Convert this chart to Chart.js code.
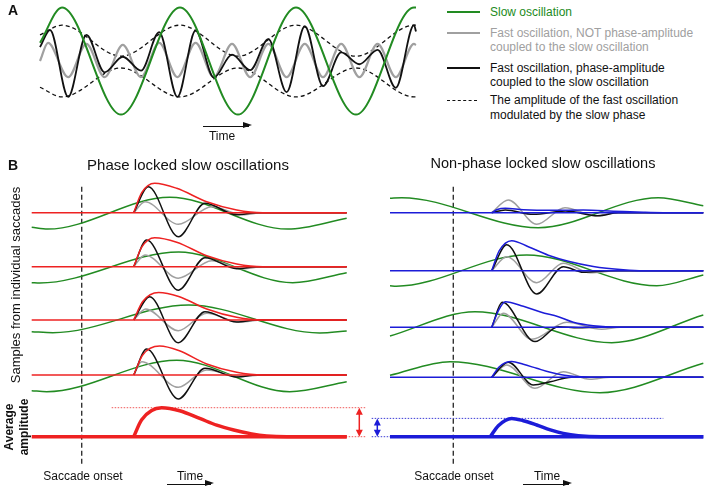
<!DOCTYPE html>
<html>
<head>
<meta charset="utf-8">
<script src="https://cdn.jsdelivr.net/npm/chart.js@4.4.0/dist/chart.umd.min.js"></script>
<style>
  body { margin: 0; background: #fff; }
  #page { position: relative; width: 708px; height: 490px; overflow: hidden;
          font-family: "Liberation Sans", Arial, Helvetica, sans-serif; color: #111; }
  canvas { position: absolute; }
  .lbl { position: absolute; white-space: nowrap; font-size: 12px; line-height: 14.5px; }
  .c { transform: translate(-50%, -50%); text-align: center; }
  .rot { transform: translate(-50%, -50%) rotate(-90deg); text-align: center; }
  .b { font-weight: bold; }
  .sw { position: absolute; height: 0; width: 33px; left: 447px; }
  .arrow { position: absolute; height: 0; border-top: 1.4px solid #111; }
  .arrow::after { content: ''; position: absolute; right: -3px; top: -4.7px;
                  border-left: 9px solid #111; border-top: 3.5px solid transparent;
                  border-bottom: 3.5px solid transparent; }
</style>
</head>
<body>
<div id="page">
  <canvas id="chartA" width="425" height="128" style="left:0;top:0"></canvas>
  <canvas id="chartLeft" width="372" height="320" style="left:0;top:170px"></canvas>
  <canvas id="chartRight" width="348" height="320" style="left:360px;top:170px"></canvas>

  <div class="lbl c b" style="left:13px;top:10px;font-size:14px">A</div>
  <div class="lbl c b" style="left:13px;top:165px;font-size:14px">B</div>

  <div class="sw" style="top:11px;border-top:2px solid #228b22"></div>
  <div class="lbl" style="left:490px;top:4.5px;color:#228b22">Slow oscillation</div>
  <div class="sw" style="top:32px;border-top:2px solid #a0a0a0"></div>
  <div class="lbl" style="left:490px;top:25.5px;color:#a0a0a0">Fast oscillation, NOT phase-amplitude<br>coupled to the slow oscillation</div>
  <div class="sw" style="top:67px;border-top:2px solid #111"></div>
  <div class="lbl" style="left:490px;top:60.5px">Fast oscillation, phase-amplitude<br>coupled to the slow oscillation</div>
  <div class="sw" style="top:99.5px;width:30px;border-top:1.5px dashed #111"></div>
  <div class="lbl" style="left:490px;top:93px">The amplitude of the fast oscillation<br>modulated by the slow phase</div>

  <div class="arrow" style="left:203px;top:125.5px;width:46px"></div>
  <div class="lbl c" style="left:222px;top:136px">Time</div>

  <div class="lbl c" style="left:188px;top:165px;font-size:15px">Phase locked slow oscillations</div>
  <div class="lbl c" style="left:543px;top:163px;font-size:14.5px">Non-phase locked slow oscillations</div>

  <div class="lbl rot" style="left:16px;top:285px;font-size:13px">Samples from individual saccades</div>
  <div class="lbl rot b" style="left:16px;top:427px">Average<br>amplitude</div>

  <div class="lbl c" style="left:83px;top:476px">Saccade onset</div>
  <div class="lbl c" style="left:190px;top:476px">Time</div>
  <div class="arrow" style="left:167px;top:484px;width:44px"></div>
  <div class="lbl c" style="left:454px;top:476px">Saccade onset</div>
  <div class="lbl c" style="left:547px;top:476px">Time</div>
  <div class="arrow" style="left:523px;top:484px;width:46px"></div>
</div>
<script>
// ---------- Panel A: [time, amplitude] read at extrema ----------
const slowWave = [[0, 0.34], [22, 1.0], [81, -1.0], [140, 1.0], [198, -1.0], [256, 1.0], [316, -1.0], [374, 1.0], [376, 1.0]];
const upperEnvelope = [[0, 0.49], [22, 0.67], [81, 0.09], [140, 0.67], [198, 0.09], [256, 0.67], [316, 0.09], [374, 0.67], [376, 0.67]];
const lowerEnvelope = [[0, -0.49], [22, -0.67], [81, -0.13], [140, -0.67], [198, -0.13], [256, -0.67], [316, -0.13], [374, -0.67], [376, -0.67]];
const coupledFast = [[0, 0.26], [10, 0.58], [28.2, -0.67], [46.4, 0.49], [64.6, -0.21], [82.8, 0.08], [101, -0.18],
  [119.2, 0.54], [137.4, -0.67], [155.6, 0.57], [173.8, -0.31], [192, 0.12], [210.2, -0.17], [228.4, 0.41],
  [246.6, -0.58], [264.8, 0.65], [283, -0.47], [301.2, 0.16], [319.4, -0.06], [337.6, 0.21], [355.8, -0.5], [374, 0.67], [376, 0.55]];
const uncoupledFast = [[0, 0.0], [8, 0.34], [28.2, -0.3], [46.4, 0.32], [64.6, -0.3], [82.8, 0.3], [101, -0.3],
  [119.2, 0.34], [137.4, -0.3], [155.6, 0.34], [173.8, -0.3], [192, 0.32], [210.2, -0.3], [228.4, 0.32],
  [246.6, -0.3], [264.8, 0.32], [283, -0.3], [301.2, 0.32], [319.4, -0.3], [337.6, 0.32], [355.8, -0.3], [374, 0.32], [376, 0.3]];

// ---------- Panel B left: phase locked (time rel. to saccade onset, burst part) ----------
const leftEnvelope = [
  [[52, 0], [60, 20], [73, 29.4], [95, 24.4], [125, 11], [155, 2.7], [181, 0], [265, 0]],
  [[52, 0], [60, 19.5], [73, 29], [95, 24.5], [125, 11], [155, 2.7], [181, 0], [265, 0]],
  [[52, 0], [61, 18.5], [77, 27.5], [97, 23.5], [125, 11], [155, 2.7], [181, 0], [265, 0]],
  [[52, 0], [61, 20], [78, 29], [97, 24.5], [125, 11], [155, 2.7], [181, 0], [265, 0]]
];
const leftCoupled = [
  [[52, 0], [66.6, 26], [96.6, -24], [123.3, 9.4], [155, -2], [175, 0], [265, 0]],
  [[52, 0], [65, 26.7], [96.6, -23.5], [123.3, 9], [155, -2], [175, 0], [265, 0]],
  [[52, 0], [68, 23.3], [96.6, -22.7], [123.3, 8.3], [155, -2], [175, 0], [265, 0]],
  [[52, 0], [65, 26], [96.6, -24], [123.3, 6.7], [155, -2], [175, 0], [265, 0]]
];
const leftUncoupled = [
  [[52, 0], [63.3, 11], [96.6, -11.6], [130, 6], [161, -2], [181, 0], [265, 0]],
  [[52, 0], [63.3, 11.7], [96.6, -11.5], [130, 6], [161, -2], [181, 0], [265, 0]],
  [[52, 0], [64, 11], [96.6, -10.7], [125, 6.7], [158, -2], [181, 0], [265, 0]],
  [[52, 0], [60, 13.3], [96.6, -12.3], [125, 5], [158, -1.5], [181, 0], [265, 0]]
];
const leftSlow = [
  [[-50, -14.6], [-34, -16.4], [88, 15.4], [206, -16.4], [265, -5.6]],
  [[-50, -16], [-42, -16.3], [97, 14.8], [211, -16], [265, -6]],
  [[-50, -11.7], [-29, -12.7], [107, 15], [238, -13], [265, -11]],
  [[-50, -15.7], [-35, -16.7], [95, 14.8], [208, -16.7], [265, -6.7]]
];
const leftAverage = [[52, 0], [60, 17], [80, 29], [98, 26], [118, 18.3], [135, 11.5], [152, 6.7],
  [170, 2.8], [185, 0.8], [205, 0], [265, 0]];

// ---------- Panel B right: non-phase locked ----------
const rightEnvelope = [
  [[38.4, 0], [44, 3.2], [52, 4.4], [70, 3], [100, 2.4], [130, 2.6], [160, 1.5], [190, 0.4], [210, 0], [250, 0]],
  [[38.4, 0], [46, 20], [58.4, 30], [75, 24], [95, 15.5], [115, 9.5], [140, 4.3], [170, 1], [190, 0], [250, 0]],
  [[38.4, 0], [45, 16.5], [52, 25.6], [70, 21], [88, 15], [105, 10.6], [120, 5], [140, 1.5], [165, 0], [250, 0]],
  [[38.4, 0], [46, 10.5], [58.4, 15.8], [70, 13], [83.4, 9], [97, 5], [115, 1.5], [145, 0], [250, 0]]
];
const rightCoupled = [
  [[38.4, 0], [52, 2.7], [80, -1.6], [112, 1.6], [145, -3], [165, 0], [250, 0]],
  [[38.4, 0], [53.4, 26], [83.4, -23.3], [110, 4], [130, -1.5], [157, 0], [250, 0]],
  [[38.4, 0], [49, 25], [81.7, -14.3], [105, 0.5], [125, -0.5], [145, 0], [250, 0]],
  [[38.4, 0], [55, 15], [80, -7.7], [97, -4.5], [118, 0], [250, 0]]
];
const rightUncoupled = [
  [[38.4, 0], [55, 12.7], [83.4, -11.6], [111.7, 5], [141.7, -3], [165, 0], [250, 0]],
  [[38.4, 0], [53.4, 14], [83.4, -12], [110, 7.4], [136.7, -2], [165, 0], [250, 0]],
  [[38.4, 0], [50, 14], [78.4, -12], [113.4, 5], [148.4, -2], [167, 0], [250, 0]],
  [[38.4, 0], [53.4, 12.3], [81.7, -11], [110, 5.6], [136.7, -2], [157, 0], [250, 0]]
];
const rightSlow = [
  [[-63.3, 14.4], [-51.6, 15], [85, -15], [205, 15], [250, 7]],
  [[-63.3, -15], [-57, -15.5], [73.4, 15.7], [203.4, -15], [250, -4.3]],
  [[-63.3, -8.7], [21.7, 15.6], [158.4, -15.4], [250, 12.3]],
  [[-63.3, 2], [-3.3, 15.6], [146.7, -15.4], [250, 14]]
];
const rightAverage = [[37, 0], [45, 11], [58.4, 18.3], [70, 16], [83.4, 11.7], [97, 6.8], [110, 3.3],
  [125, 1], [148, 0], [250, 0]];

// layout: vertical offset of each sample trace
const leftRows = [224, 170, 116.7, 61.7];
const rightRows = [224, 166, 109.4, 59.4];

const GREEN = '#228b22', RED = '#ee2222', BLUE = '#1c1cd8', GRAY = '#a0a0a0', BLACK = '#111111';

function curve(points, color, width, order, shift) {
  shift = shift || 0;
  return {
    data: points.map(p => ({ x: p[0], y: p[1] + shift })),
    borderColor: color, borderWidth: width, pointRadius: 0, fill: false,
    cubicInterpolationMode: 'monotone', order: order, clip: false
  };
}

function straight(points, color, width, dash, order) {
  return {
    data: points.map(p => ({ x: p[0], y: p[1] })),
    borderColor: color, borderWidth: width, borderDash: dash, pointRadius: 0,
    fill: false, tension: 0, order: order, clip: false
  };
}

function baseOptions(padding, xmin, xmax, ymin, ymax) {
  return {
    responsive: false, animation: false, events: [],
    layout: { autoPadding: false, padding: padding },
    plugins: { legend: { display: false }, tooltip: { enabled: false } },
    scales: {
      x: { type: 'linear', min: xmin, max: xmax, display: false },
      y: { type: 'linear', min: ymin, max: ymax, display: false }
    }
  };
}

// double headed arrow marking the height of the average burst
function gauge(t, color) {
  return {
    id: 'gauge',
    afterDatasetsDraw(chart) {
      const peak = chart.$peak;
      if (peak === undefined) return;
      const ctx = chart.ctx;
      const x = chart.scales.x.getPixelForValue(t);
      const y0 = chart.scales.y.getPixelForValue(0);
      const y1 = chart.scales.y.getPixelForValue(peak);
      ctx.save();
      ctx.strokeStyle = color; ctx.fillStyle = color; ctx.lineWidth = 1.5;
      ctx.beginPath(); ctx.moveTo(x, y1 + 5); ctx.lineTo(x, y0 - 5); ctx.stroke();
      ctx.beginPath(); ctx.moveTo(x, y1); ctx.lineTo(x - 3.5, y1 + 7); ctx.lineTo(x + 3.5, y1 + 7); ctx.closePath(); ctx.fill();
      ctx.beginPath(); ctx.moveTo(x, y0); ctx.lineTo(x - 3.5, y0 - 7); ctx.lineTo(x + 3.5, y0 - 7); ctx.closePath(); ctx.fill();
      ctx.restore();
    }
  };
}

// Panel A
new Chart(document.getElementById('chartA'), {
  type: 'line',
  data: {
    datasets: [
      curve(slowWave, GREEN, 2, 1),
      curve(coupledFast, BLACK, 1.8, 2),
      curve(uncoupledFast, GRAY, 2.2, 3),
      { ...curve(upperEnvelope, BLACK, 1.3, 4), borderDash: [4, 3] },
      { ...curve(lowerEnvelope, BLACK, 1.3, 4), borderDash: [4, 3] }
    ]
  },
  options: baseOptions({ left: 40, right: 9, top: 0, bottom: 7 }, 0, 376, -1.12, 1.14)
});

function panelB(canvasId, rows, env, coupled, uncoupled, slow, avg, envColor, dotted, dottedColor, gaugeT, pad, xmin, xmax) {
  const sets = [];
  rows.forEach((off, r) => {
    sets.push(straight([[xmin, off], [xmax, off]], envColor, 1.5, [], 1));
    sets.push(curve(env[r], envColor, 1.5, 1, off));
    sets.push(curve(coupled[r], BLACK, 1.5, 2, off));
    sets.push(curve(uncoupled[r], GRAY, 1.5, 3, off));
    sets.push(curve(slow[r], GREEN, 1.5, 4, off));
  });
  const peak = Math.max(...avg.map(p => p[1]));
  sets.push(straight([[xmin, 0], [xmax, 0]], envColor, 3.5, [], 1));
  sets.push(curve(avg, envColor, 3.5, 1));
  sets.push(straight([[dotted[0], peak], [dotted[1], peak]], dottedColor, 1, [1.5, 1.5], 6));
  sets.push(straight([[dotted[0], 0], [dotted[1], 0]], dottedColor, 1, [1.5, 1.5], 6));
  sets.push(straight([[0, 250], [0, -30]], '#333333', 1.4, [5, 3], 5));
  const chart = new Chart(document.getElementById(canvasId), {
    type: 'line',
    data: { datasets: sets },
    options: baseOptions(pad, xmin, xmax, -33.3, 256.7),
    plugins: [gauge(gaugeT, envColor)]
  });
  chart.$peak = peak;
  chart.draw();
}

panelB('chartLeft', leftRows, leftEnvelope, leftCoupled, leftUncoupled, leftSlow, leftAverage,
  RED, [30, 285], 'rgba(238,60,60,0.85)', 277.6,
  { left: 31.7, right: 25.3, top: 10, bottom: 20 }, -50, 265);

panelB('chartRight', rightRows, rightEnvelope, rightCoupled, rightUncoupled, rightSlow, rightAverage,
  BLUE, [-81.6, 210], 'rgba(40,40,210,0.9)', -76,
  { left: 30, right: 4.7, top: 10, bottom: 20 }, -63.3, 250);
</script>
</body>
</html>
